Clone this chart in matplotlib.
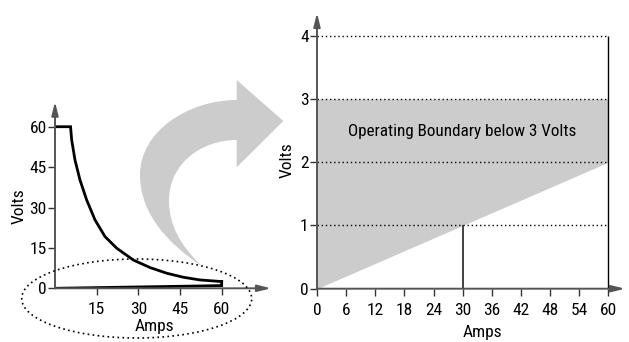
import matplotlib
matplotlib.use('Agg')
import matplotlib.pyplot as plt
from matplotlib.patches import PathPatch, Ellipse
from matplotlib.path import Path
import matplotlib.transforms as mtransforms

plt.rcParams['font.family'] = ['Roboto Condensed', 'DejaVu Sans']

# ---------------- data ----------------
# Left chart: power curve (Amps vs Volts)
curve_amps = [0, 5.6, 6.0, 7.2, 9.0, 11.4, 14.4, 18.0, 22.2, 28.2, 34.2, 40.2, 46.2, 52.2, 60]
curve_volts = [60, 60, 55.1, 47.6, 40.2, 32.8, 25.4, 19.2, 14.9, 10.5, 7.7, 5.6, 4.1, 3.1, 2.5]
closing_amps = [60, 60, 0]
closing_volts = [2.5, 1.0, 0]
left_xticks = [15, 30, 45, 60]
left_yticks = [0, 15, 30, 45, 60]

# Right chart: operating boundary
boundary_amps = [0, 60]
boundary_volts = [0, 2]
limit_volts = 3
grid_levels = [1, 2, 3, 4]
marker_amps = 30
marker_volts = 1
right_xticks = [0, 6, 12, 18, 24, 30, 36, 42, 48, 54, 60]
right_yticks = [0, 1, 2, 3, 4]
boundary_label = 'Operating Boundary below 3 Volts'

W, H = 629, 342
fig = plt.figure(figsize=(W / 100, H / 100), dpi=100)
PX = mtransforms.Affine2D().scale(1 / W, -1 / H).translate(0, 1) + fig.transFigure


def axes_px(left, right, bottom, top):
    return [left / W, (H - bottom) / H, (right - left) / W, (bottom - top) / H]


AX_COLOR = '#555555'
GREY = '#cccccc'
FS = 12.5


def draw_axes_arrows(ax):
    for spine in ax.spines.values():
        spine.set_visible(False)
    for end in [(1, 0), (0, 1)]:
        ax.annotate('', xy=end, xytext=(0, 0), xycoords='axes fraction',
                    textcoords='axes fraction',
                    arrowprops=dict(arrowstyle='-|>,head_length=0.8,head_width=0.2',
                                    color=AX_COLOR, lw=1.4, shrinkA=0, shrinkB=0,
                                    mutation_scale=10),
                    annotation_clip=False)


# ---------------- curved arrow (decoration) ----------------
verts = [(236.7, 100),
         (190, 100), (140, 130), (140, 175),
         (140, 215), (170, 245), (201.7, 266),
         (180, 245), (169, 225), (169, 200),
         (169, 165), (200, 140), (236.7, 140),
         (236.7, 167.3), (283.3, 121), (236.7, 80), (236.7, 100)]
codes = [Path.MOVETO] + [Path.CURVE4] * 12 + [Path.LINETO] * 3 + [Path.CLOSEPOLY]
arrow = PathPatch(Path(verts, codes), transform=PX, facecolor=GREY, edgecolor='none', zorder=-1)
fig.add_artist(arrow)

# ---------------- left chart ----------------
ax1 = fig.add_axes(axes_px(55, 271, 288.3, 101.7))
ax1.set_facecolor('none')
ax1.set_xlim(0, 216 / 2.778)
ax1.set_ylim(0, 186.6 / 2.693)
ax1.plot(curve_amps, curve_volts, color='black', lw=2, solid_joinstyle='miter', zorder=3)
ax1.plot(closing_amps, closing_volts, color='black', lw=2, solid_joinstyle='miter', zorder=3)
draw_axes_arrows(ax1)
ax1.set_xticks(left_xticks)
ax1.set_yticks(left_yticks)
ax1.tick_params(direction='out', length=5, width=1, color='#333333', labelsize=FS)
ax1.tick_params(axis='x', pad=5)
ax1.tick_params(axis='y', pad=1)
fig.text(19 / W, 1 - 206.5 / H, 'Volts', rotation=90, ha='center', va='center', fontsize=FS)
fig.text(154.5 / W, 1 - 326 / H, 'Amps', ha='center', va='center', fontsize=FS)

# dotted ellipse around the bottom of the left chart
ell = Ellipse((136.7, 298.5), 230, 79, transform=PX, fill=False, edgecolor='black',
              lw=1.2, linestyle=(0, (1, 2)), zorder=5)
fig.add_artist(ell)

# ---------------- right chart ----------------
ax2 = fig.add_axes(axes_px(317, 625, 288.7, 13))
ax2.set_facecolor('none')
ax2.set_xlim(0, 308 / 4.855)
ax2.set_ylim(0, 275.7 / 63.25)
ax2.fill_between(boundary_amps, boundary_volts, [limit_volts] * len(boundary_amps),
                 color=GREY, lw=0, zorder=1)
ax2.hlines(grid_levels, 0, 60, colors='black', linestyles=[(0, (1, 2))], lw=1, zorder=2)
ax2.vlines(60, 0, grid_levels[-1], colors='black', lw=1, zorder=2)
ax2.vlines(marker_amps, 0, marker_volts, colors='#333333', lw=1.3, zorder=2)
ax2.text(30, 2.48, boundary_label, ha='center', va='center', fontsize=12.3)
draw_axes_arrows(ax2)
ax2.set_xticks(right_xticks)
ax2.set_yticks(right_yticks)
ax2.tick_params(direction='out', length=5, width=1, color='#333333', labelsize=FS)
ax2.tick_params(axis='x', pad=5)
ax2.tick_params(axis='y', pad=1)
fig.text(287 / W, 1 - 160 / H, 'Volts', rotation=90, ha='center', va='center', fontsize=FS)
fig.text(482 / W, 1 - 332 / H, 'Amps', ha='center', va='center', fontsize=FS)

fig.savefig('out.png', dpi=100)
